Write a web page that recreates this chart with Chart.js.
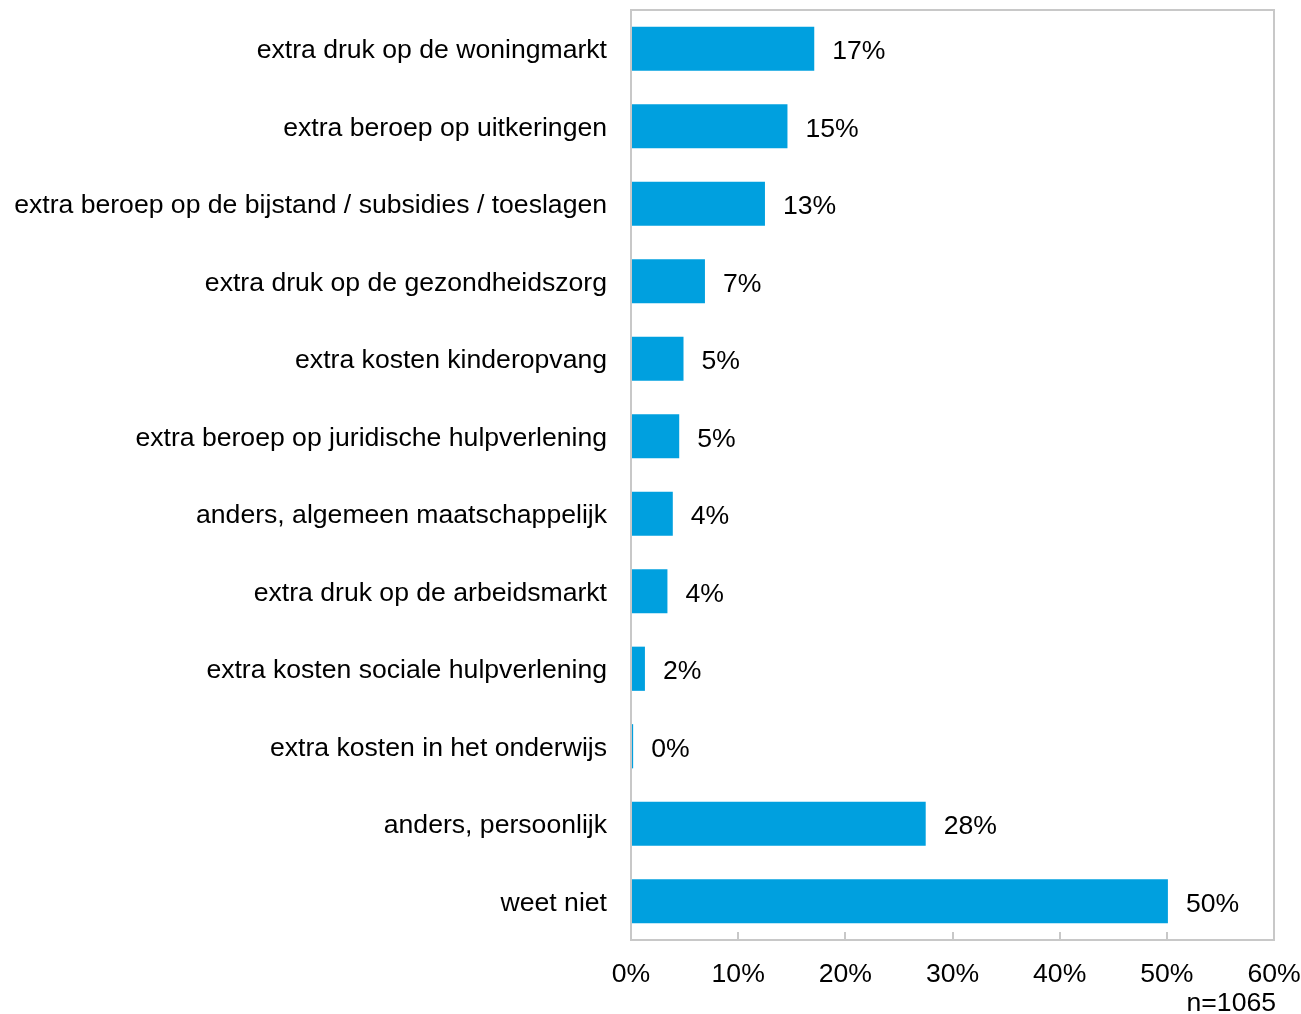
<!DOCTYPE html>
<html>
<head>
<meta charset="utf-8">
<script src="https://cdn.jsdelivr.net/npm/chart.js@4"></script>
<style>
  html, body { margin: 0; padding: 0; background: #fff; }
  #wrap { width: 1301px; height: 1014px; }
</style>
</head>
<body>
<div id="wrap"><canvas id="chart" width="1301" height="1014"></canvas></div>
<script>
var categories = [
  "extra druk op de woningmarkt",
  "extra beroep op uitkeringen",
  "extra beroep op de bijstand / subsidies / toeslagen",
  "extra druk op de gezondheidszorg",
  "extra kosten kinderopvang",
  "extra beroep op juridische hulpverlening",
  "anders, algemeen maatschappelijk",
  "extra druk op de arbeidsmarkt",
  "extra kosten sociale hulpverlening",
  "extra kosten in het onderwijs",
  "anders, persoonlijk",
  "weet niet"
];
var values = [17.1, 14.6, 12.5, 6.9, 4.9, 4.5, 3.9, 3.4, 1.3, 0.2, 27.5, 50.1];
var valueLabels = ["17%", "15%", "13%", "7%", "5%", "5%", "4%", "4%", "2%", "0%", "28%", "50%"];
var xTicks = [0, 10, 20, 30, 40, 50, 60];
var footnote = "n=1065";

var FONT = "'Liberation Sans', Arial, sans-serif";
var FONT_SIZE = 26.6;
var BAR_COLOR = "#00a0df";
var FRAME = "#c8c8c8";

function noPadding(scale) {
  scale.paddingTop = scale.paddingBottom = scale.paddingLeft = scale.paddingRight = 0;
}

// frame, inward tick marks, value labels and the n= note
var extras = {
  id: "extras",
  afterDatasetsDraw(chart) {
    const ctx = chart.ctx, a = chart.chartArea, xs = chart.scales.x;
    ctx.save();
    ctx.strokeStyle = FRAME;
    ctx.lineWidth = 2;
    ctx.strokeRect(a.left, a.top, a.right - a.left, a.bottom - a.top);
    ctx.beginPath();
    xTicks.forEach(t => {
      const px = Math.round(xs.getPixelForValue(t));
      ctx.moveTo(px, a.bottom);
      ctx.lineTo(px, a.bottom - 8);
    });
    ctx.stroke();

    ctx.fillStyle = "#000";
    ctx.font = FONT_SIZE + "px " + FONT;
    ctx.textBaseline = "middle";
    ctx.textAlign = "left";
    chart.getDatasetMeta(0).data.forEach((bar, i) => {
      ctx.fillText(valueLabels[i], bar.x + 18, bar.y + 3);
    });

    ctx.textAlign = "right";
    ctx.fillText(footnote, 1276, 1004);
    ctx.restore();
  }
};

new Chart(document.getElementById("chart"), {
  type: "bar",
  data: {
    labels: categories,
    datasets: [{
      data: values,
      backgroundColor: BAR_COLOR,
      borderWidth: 0,
      barPercentage: 0.57,
      categoryPercentage: 1.0
    }]
  },
  options: {
    indexAxis: "y",
    responsive: false,
    animation: false,
    events: [],
    layout: { autoPadding: false, padding: { top: 10, right: 27, bottom: 0, left: 0 } },
    plugins: {
      legend: { display: false },
      tooltip: { enabled: false }
    },
    scales: {
      x: {
        min: 0,
        max: 60,
        afterBuildTicks(scale) { scale.ticks = xTicks.map(v => ({ value: v })); },
        afterFit(scale) { scale.height = 74; noPadding(scale); },
        grid: { display: false, drawTicks: false },
        border: { display: false },
        ticks: {
          color: "#000",
          font: { family: FONT, size: FONT_SIZE },
          padding: 19,
          maxRotation: 0,
          callback: v => v + "%"
        }
      },
      y: {
        afterFit(scale) { scale.width = 631; noPadding(scale); },
        grid: { display: false, drawTicks: false },
        border: { display: false },
        ticks: {
          color: "#000",
          font: { family: FONT, size: FONT_SIZE },
          padding: 24,
          labelOffset: 2,
          autoSkip: false
        }
      }
    }
  },
  plugins: [extras]
});
</script>
</body>
</html>
